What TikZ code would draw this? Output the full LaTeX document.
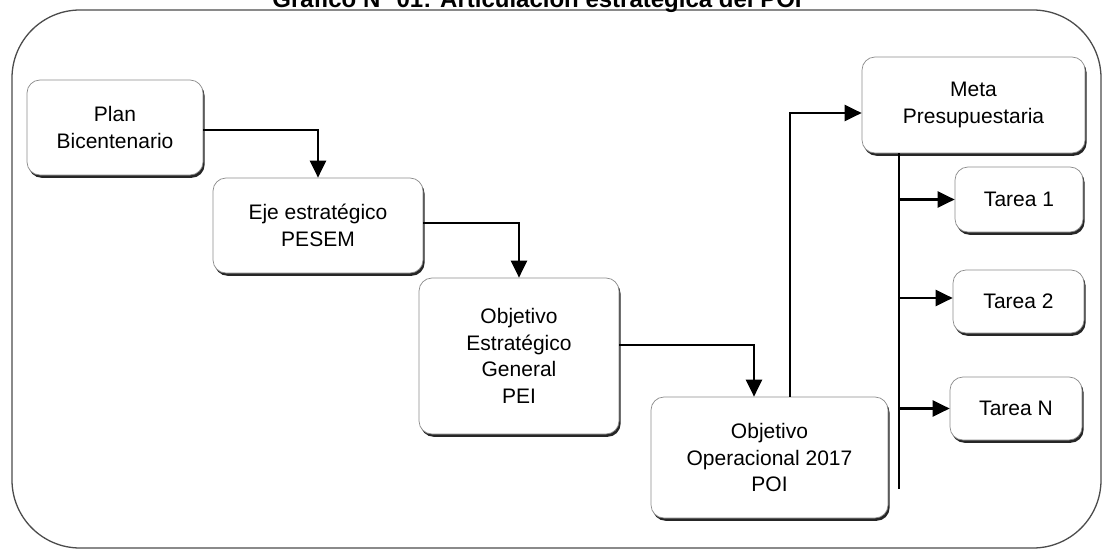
\documentclass[tikz,border=0pt]{standalone}
\usepackage{fontspec}
\setmainfont{Liberation Sans}
\usetikzlibrary{arrows.meta,shadows,calc}
\begin{document}
\begin{tikzpicture}[x=1pt,y=-1pt,
  boxnode/.style={draw=black!45, line width=0.7pt, rounded corners=13pt, fill=white,
    align=center, inner sep=0pt,
    font=\fontsize{21}{26.5}\selectfont,
    drop shadow={shadow xshift=1.6pt, shadow yshift=-2.8pt, fill=black!85, opacity=1}},
  conn/.style={line width=2.4pt, -{Triangle[length=17pt,width=16pt]}},
  busline/.style={line width=2.4pt},
  frame/.style={draw=black!70, line width=1.3pt, rounded corners=68pt}]
\useasboundingbox (0,0) rectangle (1103,551);
\fill[white] (0,0) rectangle (1103,551);
% outer frame
\draw[frame] (12,10) rectangle (1101,548);
% title (cut at top edge, as in the reference)
\node[anchor=base, font=\bfseries\fontsize{24}{28}\selectfont, inner sep=0pt] (title) at (537,8) {Gráfico N° 01: Articulación estratégica del POI};
% boxes
\node[boxnode, minimum width=176pt, minimum height=95pt] (plan) at (115,127.5) {Plan\\Bicentenario};
\node[boxnode, minimum width=210pt, minimum height=95pt] (eje) at (318,225.5) {Eje estratégico\\PESEM};
\node[boxnode, minimum width=200pt, minimum height=156pt] (oeg) at (519,356) {Objetivo\\Estratégico\\General\\PEI};
\node[boxnode, minimum width=237pt, minimum height=121pt] (oop) at (769.5,457.5) {Objetivo\\Operacional 2017\\POI};
\node[boxnode, minimum width=223pt, minimum height=96pt] (meta) at (973.5,105) {Meta\\Presupuestaria};
\node[boxnode, minimum width=128pt, minimum height=65pt] (t1) at (1019,199.5) {Tarea 1};
\node[boxnode, minimum width=131pt, minimum height=63pt] (t2) at (1018.5,301.5) {Tarea 2};
\node[boxnode, minimum width=132pt, minimum height=63pt] (tN) at (1016,408.5) {Tarea N};
% connectors
\draw[conn] ([yshift=-2.5pt]plan.east) -| (eje.north);
\draw[conn] ([yshift=2.5pt]eje.east) -| (oeg.north);
\draw[conn] ([yshift=11pt]oeg.east) -| ([xshift=-15.5pt]oop.north);
\draw[conn] ([xshift=20.5pt]oop.north) |- ([yshift=-8pt]meta.west);
% bus from meta to tasks
\coordinate (bustop) at ($(meta.south)+(-74.5,0)$);
\coordinate (busend) at ($(bustop)+(0,336)$);
\draw[busline] (bustop) -- (busend);
\draw[conn] (t1.west -| bustop) -- (t1.west);
\draw[conn] ([yshift=3.5pt]t2.west -| bustop) -- ([yshift=3.5pt]t2.west);
\draw[conn] (tN.west -| bustop) -- (tN.west);
\end{tikzpicture}
\end{document}
